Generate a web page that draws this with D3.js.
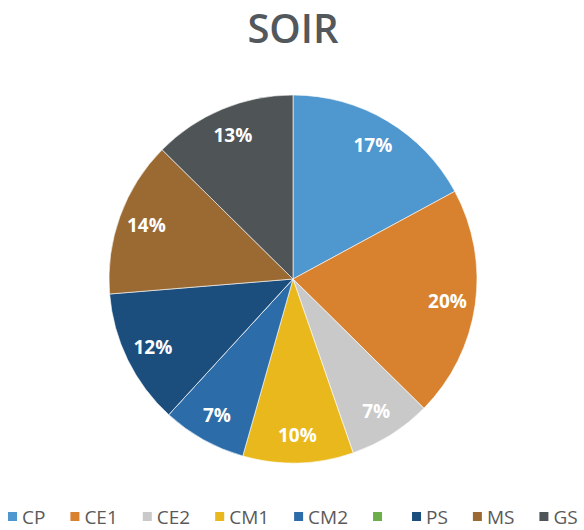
<!DOCTYPE html>
<html>
<head>
<meta charset="utf-8">
<script src="https://cdn.jsdelivr.net/npm/d3@7"></script>
<style>
  body { margin: 0; background: #fff; }
  svg { display: block; }
</style>
</head>
<body>
<div id="chart"></div>
<script>
// data (share of each class)
var classes = ['CP', 'CE1', 'CE2', 'CM1', 'CM2', '', 'PS', 'MS', 'GS'];
var shares = [17.1, 20.3, 7.3, 9.7, 7.4, 0, 11.9, 13.7, 12.6];
var colors = ['#4f97cf', '#d8822f', '#c9c9c9', '#e9b81c', '#2b6ca9', '#6cae4a', '#1b4e7d', '#9b6a33', '#4f5456'];
var title = 'SOIR';

var width = 584, height = 530;
var cx = 293, cy = 279, radius = 184, labelR = 156;

var svg = d3.select('#chart').append('svg')
  .attr('width', width)
  .attr('height', height);

// title
svg.append('text')
  .attr('x', 293)
  .attr('y', 43)
  .attr('text-anchor', 'middle')
  .attr('font-family', 'Open Sans, sans-serif')
  .attr('font-weight', 600)
  .attr('font-size', 40)
  .attr('fill', '#52585c')
  .text(title);

var data = classes.map(function(c, i) {
  return { key: c, value: shares[i], color: colors[i] };
});

var pie = d3.pie()
  .sort(null)
  .value(function(d) { return d.value; });

var arc = d3.arc().innerRadius(0).outerRadius(radius);
var labelArc = d3.arc().innerRadius(labelR).outerRadius(labelR);

var g = svg.append('g')
  .attr('transform', 'translate(' + cx + ',' + cy + ')');

var arcs = pie(data);

g.selectAll('path')
  .data(arcs)
  .enter().append('path')
  .attr('d', arc)
  .attr('fill', function(d) { return d.data.color; })
  .attr('stroke', '#fff')
  .attr('stroke-opacity', 0.6)
  .attr('stroke-width', 1);

g.selectAll('.lbl')
  .data(arcs.filter(function(d) { return d.data.value > 0; }))
  .enter().append('text')
  .attr('class', 'lbl')
  .attr('transform', function(d) { return 'translate(' + labelArc.centroid(d) + ')'; })
  .attr('text-anchor', 'middle')
  .attr('dy', '0.35em')
  .attr('font-family', 'Open Sans, sans-serif')
  .attr('font-weight', 700)
  .attr('font-size', 19)
  .attr('fill', '#fff')
  .text(function(d) { return Math.round(d.data.value) + '%'; });

// legend
var legend = svg.append('g')
  .attr('font-family', 'Open Sans, sans-serif')
  .attr('font-size', 19)
  .attr('fill', '#5a5a5a');

var x = 8;
data.forEach(function(d) {
  var item = legend.append('g').attr('transform', 'translate(' + x + ',517)');
  item.append('rect')
    .attr('x', 0)
    .attr('y', -5)
    .attr('width', 9)
    .attr('height', 9)
    .attr('fill', d.color);
  var t = item.append('text')
    .attr('x', 14)
    .attr('dy', '0.35em')
    .text(d.key);
  var w = d.key ? t.node().getComputedTextLength() : 0;
  x += 14 + w + 25;
});
</script>
</body>
</html>
